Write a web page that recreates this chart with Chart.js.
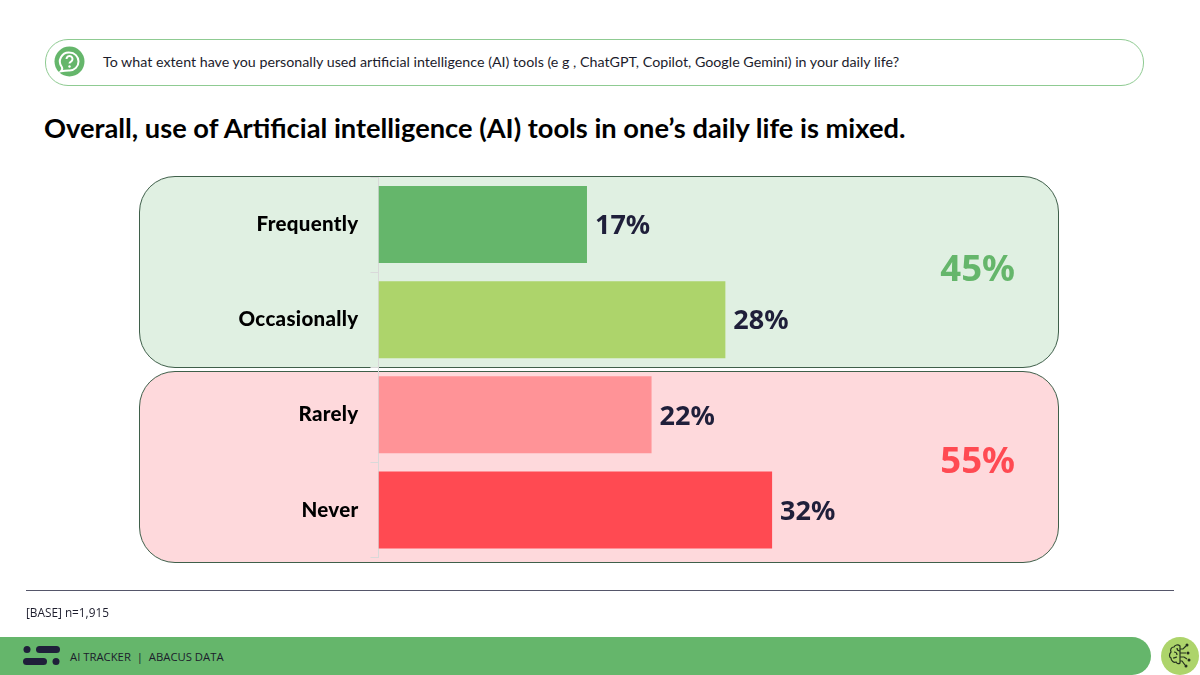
<!DOCTYPE html>
<html>
<head>
<meta charset="utf-8">
<script src="https://cdn.jsdelivr.net/npm/chart.js@4"></script>
<style>
  html, body { margin: 0; padding: 0; background: #fff; }
  #page { position: relative; width: 1200px; height: 675px; overflow: hidden; font-family: Lato, sans-serif; color: #000; }
  #page > * { position: absolute; }
  canvas { left: 0; top: 0; }
  .question { left: 45px; top: 39px; width: 1097px; height: 45px; border: 1px solid #8fcb92; border-radius: 23px; }
  .question-text { left: 103px; top: 52px; font-size: 14.25px; line-height: 20px; color: #1c1c2c; white-space: nowrap; }
  .title { left: 44px; top: 110px; font-size: 27.25px; line-height: 36px; font-weight: 700; white-space: nowrap; }
  .panel { left: 139px; width: 918px; border: 1px solid #3f5f4a; border-radius: 36px; }
  .panel-good { top: 176px; height: 190px; background: #e0f0e2; }
  .panel-bad { top: 371px; height: 190px; background: #fed9dc; }
  .net { left: 900px; width: 115px; text-align: right; font-family: "Noto Sans", sans-serif; font-weight: 700; font-size: 36.5px; line-height: 44px; }
  .rule { left: 26px; top: 590px; width: 1148px; height: 1px; background: #55566a; }
  .base { left: 26px; top: 604px; font-family: "Open Sans", sans-serif; font-size: 11.8px; line-height: 17px; color: #1c1c2c; }
  .footer { left: 0; top: 637px; width: 1151px; height: 38px; background: #65b66b; border-radius: 0 19px 19px 0; }
  .footer-text { left: 70px; top: 649px; font-family: "Open Sans", sans-serif; font-size: 11.3px; line-height: 16px; color: #1c1c2c; white-space: nowrap; }
</style>
</head>
<body>
<div id="page">
  <div class="question"></div>
  <svg style="left:54px;top:46px" width="31" height="31" viewBox="0 0 31 31">
    <circle cx="15.5" cy="15.5" r="15" fill="#65b66b"/>
    <path d="M15.5 6.5a9 9 0 0 1 0 18c-2 0-4-.1-8.500 .8 1.500-1.500 1.500-3 .8-4.300a9 9 0 0 1 7.700-14.500z" fill="none" stroke="#fff" stroke-width="2"/>
    <path d="M12.500 13a3 3 0 1 1 4.500 2.600c-1 .6-1.500 1-1.500 2" fill="none" stroke="#fff" stroke-width="2"/>
    <circle cx="15.500" cy="20.500" r="1.200" fill="#fff"/>
  </svg>
  <div class="question-text">To what extent have you personally used artificial intelligence (AI) tools (e g , ChatGPT, Copilot, Google Gemini) in your daily life?</div>
  <div class="title">Overall, use of Artificial intelligence (AI) tools in one’s daily life is mixed.</div>
  <div class="panel panel-good"></div>
  <div class="panel panel-bad"></div>
  <canvas id="chart" width="1200" height="675"></canvas>
  <div class="net" style="top:245px;color:#65b66b">45%</div>
  <div class="net" style="top:437px;color:#ff4a52">55%</div>
  <div class="rule"></div>
  <div class="base">[BASE] n=1,915</div>
  <div class="footer"></div>
  <svg style="left:23px;top:646px" width="37" height="20" viewBox="0 0 37 20">
    <g fill="#1f1f3a">
      <circle cx="4" cy="3.500" r="3.500"/><rect x="13" y="0" width="24" height="7" rx="3.500"/>
      <rect x="0" y="12" width="24" height="7" rx="3.500"/><circle cx="33" cy="15.500" r="3.500"/>
    </g>
  </svg>
  <div class="footer-text">AI TRACKER &nbsp;|&nbsp; ABACUS DATA</div>
  <svg style="left:1161px;top:637px" width="38" height="38" viewBox="0 0 38 38">
    <circle cx="19" cy="19" r="19" fill="#add46b"/>
    <g fill="none" stroke="#24301f" stroke-width="1.200">
      <path d="M19 9c-2-2-5-1-6 1-3 0-4 3-3 5-2 2-2 5 0 6 0 3 3 5 5 4 1 2 3 2 4 1z"/>
      <path d="M13 15c2 0 3 1 3 3M12 21c2 0 3-1 4-1M16 11c0 2 1 3 3 3"/>
      <path d="M19 12h3l3-3M19 16h6M19 20h4l3 2M19 24h2l3 4"/>
    </g>
    <g fill="#24301f">
      <circle cx="26" cy="8" r="1.500"/><circle cx="27" cy="16" r="1.500"/><circle cx="28" cy="23" r="1.500"/><circle cx="25" cy="29" r="1.500"/>
    </g>
  </svg>
</div>

<script>
  var categories = ["Frequently", "Occasionally", "Rarely", "Never"];
  var shares = [16.95, 28.2, 22.2, 32];
  var shareLabels = ["17%", "28%", "22%", "32%"];
  var barColors = ["#65b66b", "#add46b", "#ff9397", "#ff4a52"];
  var axisMax = 50;

  // ── Percent labels at the bar ends ────────────────────────────────

  var barLabels = {
    id: "barLabels",
    // tick labels are spaced a bit wider, reset before the bars
    beforeDraw: function (chart) { chart.ctx.letterSpacing = "0.3px"; },
    beforeDatasetsDraw: function (chart) { chart.ctx.letterSpacing = "0px"; },
    afterDatasetsDraw: function (chart) {
      var ctx = chart.ctx;
      ctx.save();
      ctx.font = '700 27px "Noto Sans", sans-serif';
      ctx.fillStyle = "#1f1f3a";
      ctx.textBaseline = "middle";
      chart.getDatasetMeta(0).data.forEach(function (bar, i) {
        ctx.fillText(shareLabels[i], bar.x + 8, bar.y + 2);
      });
      ctx.restore();
    },
  };

  new Chart(document.getElementById("chart"), {
    type: "bar",
    data: {
      labels: categories,
      datasets: [{
        data: shares,
        backgroundColor: barColors,
        barPercentage: 0.81,
        categoryPercentage: 1,
      }],
    },
    options: {
      responsive: false,
      animation: false,
      indexAxis: "y",
      layout: { padding: { left: 0, right: 206.5, top: 177, bottom: 117.5 } },
      plugins: { legend: { display: false }, tooltip: { enabled: false } },
      scales: {
        x: { display: false, min: 0, max: axisMax },
        y: {
          afterFit: function (scale) { scale.width = 378.5; },
          ticks: {
            color: "#000",
            padding: 12,
            font: { family: "Lato, sans-serif", size: 20.5, weight: "900" },
          },
          grid: { drawOnChartArea: false, offset: true, tickLength: 8, color: "#d9d9d9" },
          border: { color: "#d9d9d9" },
        },
      },
    },
    plugins: [barLabels],
  });
</script>
</body>
</html>
